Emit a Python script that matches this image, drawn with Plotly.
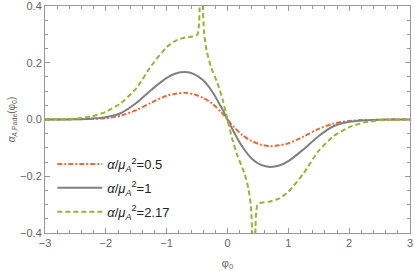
import plotly.graph_objects as go

# --- data ---
x_a = [-3, -2.75, -2.5, -2.25, -2, -1.75, -1.5, -1.25, -1, -0.85, -0.7, -0.55, -0.4, -0.25, -0.1,
       0, 0.1, 0.25, 0.4, 0.55, 0.7, 0.85, 1, 1.25, 1.5, 1.75, 2, 2.25, 2.5, 2.75, 3]
y_05 = [0.000, 0.000, 0.001, 0.002, 0.005, 0.014, 0.033, 0.060, 0.084, 0.091, 0.094, 0.089, 0.076, 0.056, 0.025,
        0.0, -0.025, -0.056, -0.076, -0.089, -0.094, -0.091, -0.084, -0.060, -0.033, -0.014, -0.005, -0.002, -0.001, 0.000, 0.000]
y_1 = [0.000, 0.000, 0.001, 0.003, 0.008, 0.023, 0.058, 0.105, 0.147, 0.162, 0.167, 0.160, 0.138, 0.098, 0.042,
       0.0, -0.042, -0.098, -0.138, -0.160, -0.167, -0.162, -0.147, -0.105, -0.058, -0.023, -0.008, -0.003, -0.001, 0.000, 0.000]

x_b = [-3, -2.75, -2.5, -2.25, -2, -1.75, -1.5, -1.25, -1, -0.85, -0.7, -0.6, -0.52, -0.49, -0.47, -0.46, -0.455, -0.45,
       None,
       -0.42, -0.41, -0.384, -0.345, -0.274, -0.164, -0.072, 0, 0.072, 0.164, 0.274, 0.345, 0.384, 0.41, 0.42,
       None,
       0.45, 0.455, 0.46, 0.47, 0.49, 0.52, 0.6, 0.7, 0.85, 1, 1.25, 1.5, 1.75, 2, 2.25, 2.5, 2.75, 3]
y_217 = [0.000, 0.001, 0.003, 0.010, 0.027, 0.058, 0.110, 0.190, 0.255, 0.278, 0.289, 0.292, 0.295, 0.302, 0.330, 0.380, 0.450, 0.600,
         None,
         0.600, 0.420, 0.304, 0.245, 0.186, 0.128, 0.064, 0.0, -0.064, -0.128, -0.186, -0.245, -0.304, -0.420, -0.600,
         None,
         -0.600, -0.450, -0.380, -0.330, -0.302, -0.295, -0.292, -0.289, -0.278, -0.255, -0.190, -0.110, -0.058, -0.027, -0.010, -0.003, -0.001, 0.000]

labels = ["<i>α</i>/<i>μ<sub>A</sub></i><sup>2</sup>=0.5",
          "<i>α</i>/<i>μ<sub>A</sub></i><sup>2</sup>=1",
          "<i>α</i>/<i>μ<sub>A</sub></i><sup>2</sup>=2.17"]

x_ticks = [-3, -2, -1, 0, 1, 2, 3]
y_ticks = [-0.4, -0.2, 0.0, 0.2, 0.4]
y_ticktext = ["\u22120.4", "\u22120.2", "0.0", "0.2", "0.4"]
x_ticktext = ["\u22123", "\u22122", "\u22121", "0", "1", "2", "3"]

ORANGE = "#EC6A3A"
GRAY = "#808080"
GREEN = "#93B636"

fig = go.Figure()
fig.add_trace(go.Scatter(x=x_a, y=y_05, mode="lines", name=labels[0], legendgroup="a",
                         line=dict(color=ORANGE, width=2, dash="5px,2px,2px,2px", shape="spline", smoothing=0.8)))
fig.add_trace(go.Scatter(x=x_a, y=y_1, mode="lines", name=labels[1], legendgroup="b",
                         line=dict(color=GRAY, width=2, shape="spline", smoothing=0.8)))
fig.add_trace(go.Scatter(x=x_b, y=y_217, mode="lines", name=labels[2], legendgroup="c", connectgaps=False,
                         line=dict(color=GREEN, width=2, dash="5px,3px", shape="spline", smoothing=0.6)))

axis_common = dict(showgrid=False, zeroline=False, showline=True, linecolor="#999999", linewidth=1,
                   mirror="allticks", ticks="inside", tickcolor="#999999", ticklen=5, automargin=False,
                   ticklabeloverflow="allow",
                   tickfont=dict(family="Liberation Sans", size=11, color="#666666"))

fig.update_xaxes(range=[-3, 3], tickvals=x_ticks, ticktext=x_ticktext,
                 minor=dict(dtick=0.2, tick0=-3, ticks="inside", ticklen=3, tickcolor="#999999"),
                 title=dict(text="φ<sub>0</sub>", font=dict(family="Liberation Sans", size=11, color="#666666"), standoff=12),
                 **axis_common)
fig.update_yaxes(range=[-0.4, 0.4], tickvals=y_ticks, ticktext=y_ticktext,
                 minor=dict(dtick=0.05, tick0=0, ticks="inside", ticklen=3, tickcolor="#999999"),
                 title=dict(text="<i>α</i><sub><i>A</i>,Pade</sub>(φ<sub>0</sub>)", font=dict(family="Liberation Sans", size=10, color="#666666"), standoff=2),
                 **axis_common)

fig.update_layout(
    width=415, height=271,
    margin=dict(l=45, r=5, t=6, b=38),
    paper_bgcolor="white", plot_bgcolor="white",
    font=dict(family="Liberation Sans", color="#333333"),
    legend=dict(x=0.02, y=0.37, xanchor="left", yanchor="top", bgcolor="rgba(0,0,0,0)", itemwidth=45,
                font=dict(family="Liberation Sans", size=13, color="#222222"), tracegroupgap=4),
    showlegend=True,
)

fig.write_html("out.html", config={"displayModeBar": False},
               post_script="document.body.style.margin='0';document.body.style.overflow='hidden';")
